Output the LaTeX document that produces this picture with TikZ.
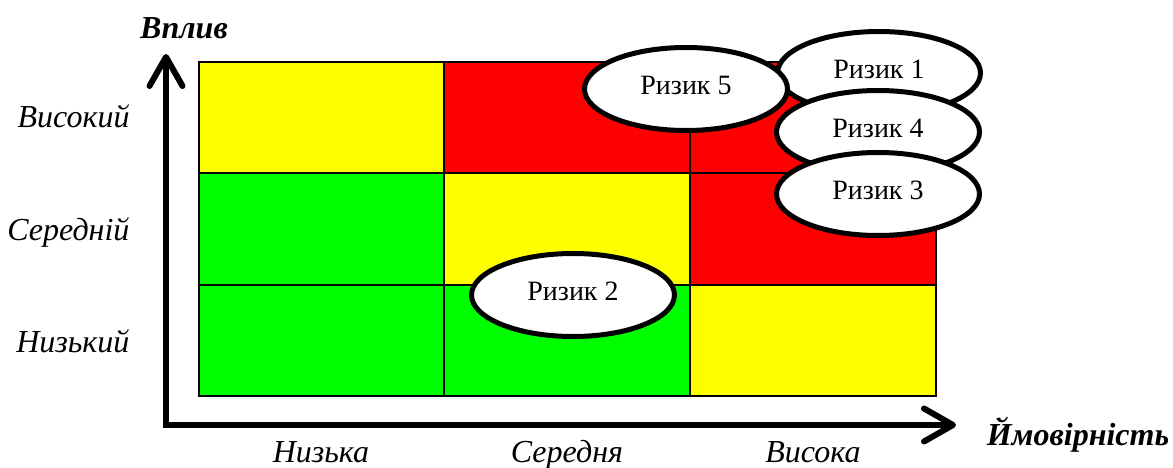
\documentclass[tikz,border=0pt]{standalone}
\usepackage{fontspec}
\setmainfont{Liberation Serif}
\usepackage{tikz}
\usetikzlibrary{shapes.geometric,arrows.meta}
\tikzstyle{risk}=[ellipse,draw,line width=5pt,fill=white,minimum width=203pt,minimum height=83pt,inner sep=0pt,text depth=8pt,font=\fontsize{28}{32}\selectfont]
\tikzstyle{axis}=[draw,line width=6pt,-{Straight Barb[length=29pt,width=33pt,round]}]
\tikzstyle{cell}=[draw,line width=1.5pt]
\tikzstyle{lab}=[font=\fontsize{32}{36}\selectfont\itshape]
\tikzstyle{axislab}=[font=\fontsize{32}{36}\selectfont\bfseries\itshape]
\definecolor{hot}{RGB}{255,0,0}
\definecolor{warm}{RGB}{255,255,0}
\definecolor{cold}{RGB}{0,255,0}

\begin{document}
\begin{tikzpicture}[x=1pt,y=-1pt]
  \useasboundingbox (0,0) rectangle (1173,468);

  % matrix cells
  \draw[cell,fill=warm] (199,62) rectangle (444,173);
  \draw[cell,fill=hot]  (444,62) rectangle (690,173);
  \draw[cell,fill=hot]  (690,62) rectangle (936,173);
  \draw[cell,fill=cold] (199,173) rectangle (444,285);
  \draw[cell,fill=warm] (444,173) rectangle (690,285);
  \draw[cell,fill=hot]  (690,173) rectangle (936,285);
  \draw[cell,fill=cold] (199,285) rectangle (444,396);
  \draw[cell,fill=cold] (444,285) rectangle (690,396);
  \draw[cell,fill=warm] (690,285) rectangle (936,396);

  % axes
  \coordinate (origin) at (166,425);
  \coordinate (ytip) at (166,54);
  \coordinate (xtip) at (956,425);
  \draw[axis] (origin) -- (ytip);
  \draw[axis] (origin) ++(-3,0) -- (xtip);

  \node[axislab,anchor=base] (vplyv) at (184,39) {Вплив};
  \node[axislab,anchor=base] (imovirnist) at (1078,445) {Ймовірність};

  \node[lab,anchor=base east] (high) at (133,128) {Високий};
  \node[lab,anchor=base east] (mid) at (133,240) {Середній};
  \node[lab,anchor=base east] (low) at (133,352) {Низький};

  \node[lab,anchor=base] (plow) at (321,462) {Низька};
  \node[lab,anchor=base] (pmid) at (567,462) {Середня};
  \node[lab,anchor=base] (phigh) at (813,462) {Висока};

  % risks
  \node[risk] (r1) at (879,73) {Ризик 1};
  \node[risk] (r5) at (686,89) {Ризик 5};
  \node[risk] (r4) at (878,132) {Ризик 4};
  \node[risk] (r3) at (878,194) {Ризик 3};
  \node[risk] (r2) at (573,295) {Ризик 2};
\end{tikzpicture}
\end{document}
